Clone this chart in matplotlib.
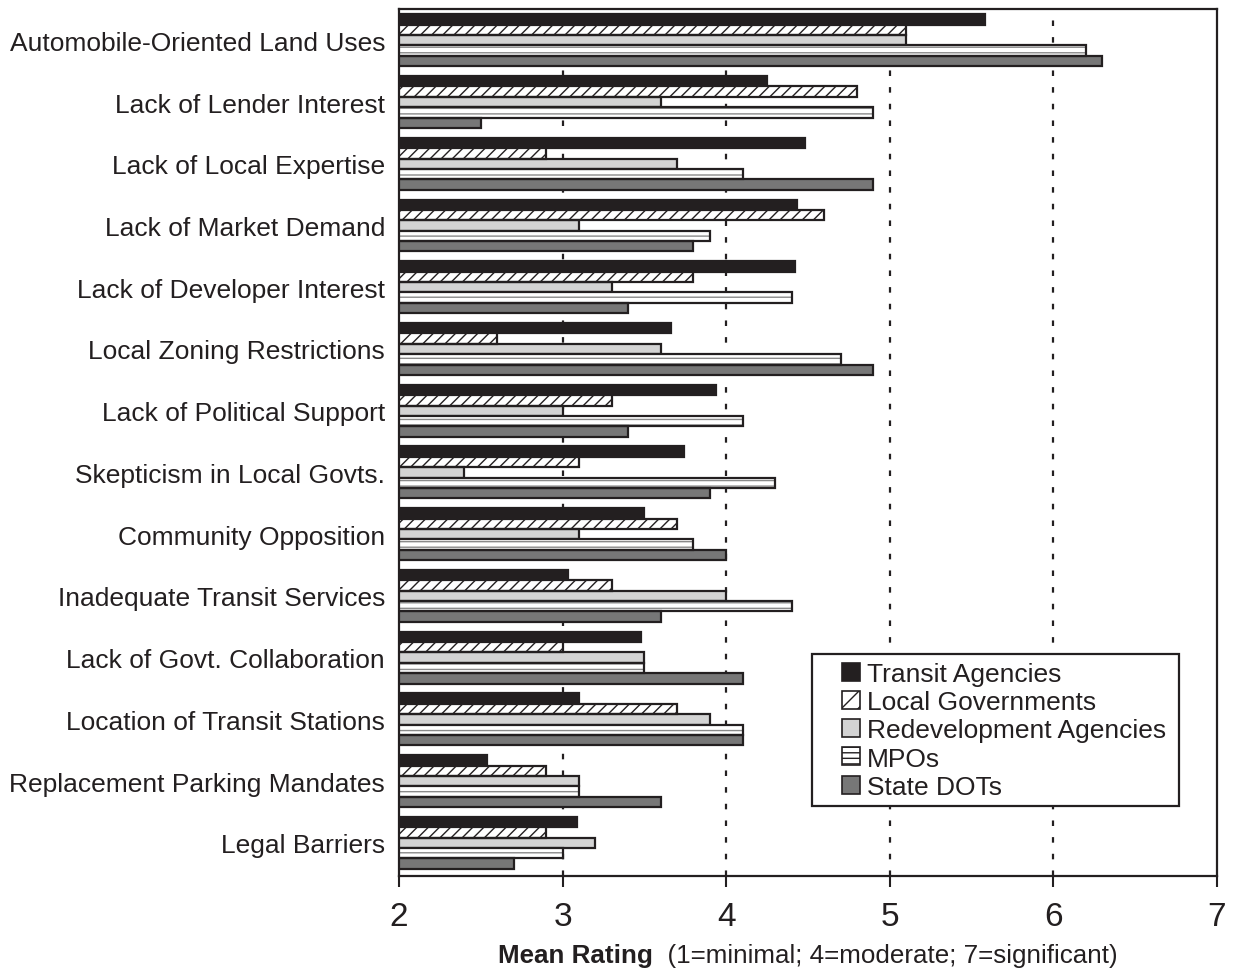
import matplotlib
matplotlib.use("Agg")
import matplotlib.pyplot as plt
import numpy as np
from matplotlib.patches import Patch, Rectangle

plt.rcParams['font.family'] = ['Liberation Sans', 'DejaVu Sans']

categories = [
    "Automobile-Oriented Land Uses",
    "Lack of Lender Interest",
    "Lack of Local Expertise",
    "Lack of Market Demand",
    "Lack of Developer Interest",
    "Local Zoning Restrictions",
    "Lack of Political Support",
    "Skepticism in Local Govts.",
    "Community Opposition",
    "Inadequate Transit Services",
    "Lack of Govt. Collaboration",
    "Location of Transit Stations",
    "Replacement Parking Mandates",
    "Legal Barriers",
]

transit_agencies = [5.58, 4.25, 4.48, 4.43, 4.42, 3.66, 3.94, 3.74, 3.50, 3.03, 3.48, 3.10, 2.54, 3.09]
local_governments = [5.1, 4.8, 2.9, 4.6, 3.8, 2.6, 3.3, 3.1, 3.7, 3.3, 3.0, 3.7, 2.9, 2.9]
redevelopment_agencies = [5.1, 3.6, 3.7, 3.1, 3.3, 3.6, 3.0, 2.4, 3.1, 4.0, 3.5, 3.9, 3.1, 3.2]
mpos = [6.2, 4.9, 4.1, 3.9, 4.4, 4.7, 4.1, 4.3, 3.8, 4.4, 3.5, 4.1, 3.1, 3.0]
state_dots = [6.3, 2.5, 4.9, 3.8, 3.4, 4.9, 3.4, 3.9, 4.0, 3.6, 4.1, 4.1, 3.6, 2.7]

series_names = ["Transit Agencies", "Local Governments", "Redevelopment Agencies", "MPOs", "State DOTs"]
x_ticks = [2, 3, 4, 5, 6, 7]

series = [transit_agencies, local_governments, redevelopment_agencies, mpos, state_dots]
fills = ["#231f20", "white", "#d3d3d3", "white", "#777777"]
hatches = [None, "///", None, "---", None]
legend_hatches = [None, "//", None, "---", None]
hatch_cols = [None, "#231f20", None, "#8a8a8a", None]
edge = "#231f20"

base = 2.0
fig = plt.figure(figsize=(12.33, 9.79), dpi=100)
ax = fig.add_axes([0.3236, 0.104, 0.6634, 0.886])

n = len(categories)
bar_h = 0.168
y_centers = np.arange(n)[::-1].astype(float)
offsets = (np.arange(5) - 2) * bar_h

for i, vals in enumerate(series):
    vals = np.asarray(vals)
    ypos = y_centers - offsets[i]
    widths = vals - base
    if hatches[i] is not None:
        # hatch drawn in its own colour, outline overlaid in the dark edge colour
        ax.barh(ypos, widths, left=base, height=bar_h, color=fills[i],
                edgecolor=hatch_cols[i], hatch=hatches[i], linewidth=0, zorder=3)
        ax.barh(ypos, widths, left=base, height=bar_h, fill=False,
                edgecolor=edge, linewidth=1.6, zorder=4)
    else:
        ax.barh(ypos, widths, left=base, height=bar_h, color=fills[i],
                edgecolor=edge, linewidth=1.6, zorder=3)

ax.set_xlim(2, 7)
ax.set_ylim(-0.5 - 0.04, n - 0.5 + 0.01)
ax.set_xticks(x_ticks)
ax.set_xticklabels([str(t) for t in x_ticks], fontsize=24)
ax.tick_params(axis='x', direction='out', length=8, width=1.5, pad=10, colors='#231f20')
ax.set_yticks(y_centers)
ax.set_yticklabels(categories, fontsize=19)
ax.tick_params(axis='y', length=0, pad=10, colors='#231f20')

for x in x_ticks[1:-1]:
    ax.axvline(x, color='#231f20', linestyle=(0, (2.5, 5)), linewidth=1.6, zorder=1)

for sp in ax.spines.values():
    sp.set_linewidth(1.6)
    sp.set_color('#231f20')

# legend: entries placed without frame, box drawn separately
handles = []
for i in range(5):
    handles.append(Patch(facecolor=fills[i], edgecolor=edge, hatch=legend_hatches[i], linewidth=1.2))
leg = ax.legend(handles, series_names, loc='upper left', bbox_to_anchor=(0.5416, 0.247),
                fontsize=19, frameon=False, handlelength=0.7, handleheight=0.68,
                handletextpad=0.24, labelspacing=0.16, borderpad=0, borderaxespad=0)
for t in leg.get_texts():
    t.set_color('#231f20')
leg.set_zorder(7)
ax.add_patch(Rectangle((0.5049, 0.0807), 0.4487, 0.1753, transform=ax.transAxes,
                       facecolor='white', edgecolor='#231f20', linewidth=1.6, zorder=6))

# x-axis caption: bold lead followed by regular text, centred under the axes
fig.canvas.draw()
r = fig.canvas.get_renderer()
y_cap = 1 - 956 / 979
t1 = fig.text(0, y_cap, "Mean Rating", fontsize=18.7, fontweight='bold', va='center', color='#231f20')
t2 = fig.text(0, y_cap, "  (1=minimal; 4=moderate; 7=significant)", fontsize=18.7, va='center', color='#231f20')
w1 = t1.get_window_extent(r).width
w2 = t2.get_window_extent(r).width
W = fig.bbox.width
cx = (ax.get_position().x0 + ax.get_position().x1) / 2 * W
start = cx - (w1 + w2) / 2
t1.set_x(start / W)
t2.set_x((start + w1) / W)

fig.savefig("out.png", dpi=100)
